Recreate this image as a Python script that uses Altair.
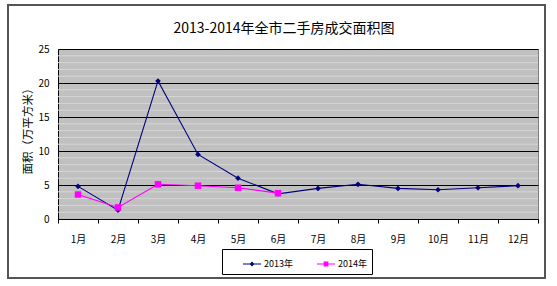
import altair as alt
import pandas as pd

months = ["1月", "2月", "3月", "4月", "5月", "6月", "7月", "8月", "9月", "10月", "11月", "12月"]
series_names = ["2013年", "2014年"]
values_2013 = [4.8, 1.3, 20.3, 9.5, 6.0, 3.7, 4.5, 5.1, 4.5, 4.3, 4.6, 4.9]
values_2014 = [3.6, 1.7, 5.1, 4.9, 4.6, 3.8]
y_ticks = [0, 5, 10, 15, 20, 25]
minor_grid = [v for v in range(1, 25) if v % 5 != 0]

colors = ["#000080", "#FF00FF"]
FONT = "Noto Sans CJK SC"
Y_TITLE = "面积（万平方米）"

rows = []
for m, v in zip(months, values_2013):
    rows.append({"month": m, "series": series_names[0], "value": v})
for m, v in zip(months, values_2014):
    rows.append({"month": m, "series": series_names[1], "value": v})
df = pd.DataFrame(rows)
minor_df = pd.DataFrame({"value": minor_grid})

xscale = alt.Scale(type="band", domain=months, paddingInner=0, paddingOuter=0)
yscale = alt.Scale(domain=[0, 25], nice=False)
cscale = alt.Scale(domain=series_names, range=colors)

x_ax = alt.Axis(labelAngle=0, tickBand="extent", ticks=True, tickSize=4,
                tickColor="black", domainColor="black", labelPadding=11,
                labelFontSize=10, labelFont=FONT, labelColor="black", grid=False)
y_ax = alt.Axis(values=y_ticks, ticks=False, labelPadding=9, labelFontSize=10,
                labelFont=FONT, labelColor="black", domainColor="black",
                grid=True, gridColor="black", gridWidth=1,
                titleFont=FONT, titleFontSize=11.5, titleFontWeight="normal",
                titleColor="black", titleAngle=-90, titleX=-30, titleY=79,
                titleAlign="center", titleBaseline="middle")


def xe():
    return alt.X("month:N", scale=xscale, sort=months, title=None, axis=x_ax)


def ye():
    return alt.Y("value:Q", scale=yscale, title=Y_TITLE, axis=y_ax)


minor = alt.Chart(minor_df).mark_rule(color="#d6d6d6", strokeWidth=1).encode(y=ye())

layers = [minor]
for name, col, shape, size in zip(series_names, colors, ["diamond", "square"], [32, 42]):
    base = alt.Chart(df).transform_filter(alt.datum.series == name)
    layers.append(base.mark_line(color=col, strokeWidth=1.1).encode(x=xe(), y=ye()))
    layers.append(base.mark_point(color=col, shape=shape, filled=True, size=size,
                                  opacity=1).encode(x=xe(), y=ye()))

legend_shapes = [
    "M-1,0H1M0,-0.17L0.17,0L0,0.17L-0.17,0Z",
    "M-1,0H1M-0.2,-0.2H0.2V0.2H-0.2Z",
]
leg = alt.Chart(df).mark_point(filled=True, size=0, opacity=1).encode(
    x=xe(), y=ye(),
    color=alt.Color("series:N", scale=cscale, title=None,
                    legend=alt.Legend(orient="none", legendX=164, legendY=200,
                                      direction="horizontal", strokeColor="black",
                                      fillColor="white", padding=5, symbolSize=324,
                                      symbolOffset=15, symbolStrokeWidth=1.2,
                                      labelFontSize=9, labelFont=FONT, labelColor="black",
                                      columnPadding=8, labelOffset=2,
                                      labelExpr="datum.label + '\u00a0\u00a0\u00a0\u00a0'")),
    stroke=alt.Stroke("series:N", scale=cscale, title=None),
    shape=alt.Shape("series:N", scale=alt.Scale(domain=series_names, range=legend_shapes),
                    title=None),
)
layers.append(leg)

frame = alt.Chart(minor_df).mark_rect(fillOpacity=0, stroke="#555555", strokeWidth=1.5).encode(
    x=alt.value(-50), x2=alt.value(487), y=alt.value(-44), y2=alt.value(229)
)
layers.append(frame)

chart = alt.layer(*layers).properties(
    width=480, height=170,
    title=alt.TitleParams("2013-2014年全市二手房成交面积图", font=FONT, fontSize=14,
                          fontWeight="normal", color="black", anchor="middle",
                          frame="group", dx=-14, offset=0, dy=32),
    autosize=alt.AutoSizeParams(type="none"),
    padding={"left": 58, "top": 49, "right": 19, "bottom": 67},
    background="white",
).configure_view(fill="#C0C0C0", stroke="#808080", strokeWidth=1)

chart.save("out.html", embed_options={"renderer": "svg", "actions": False})
